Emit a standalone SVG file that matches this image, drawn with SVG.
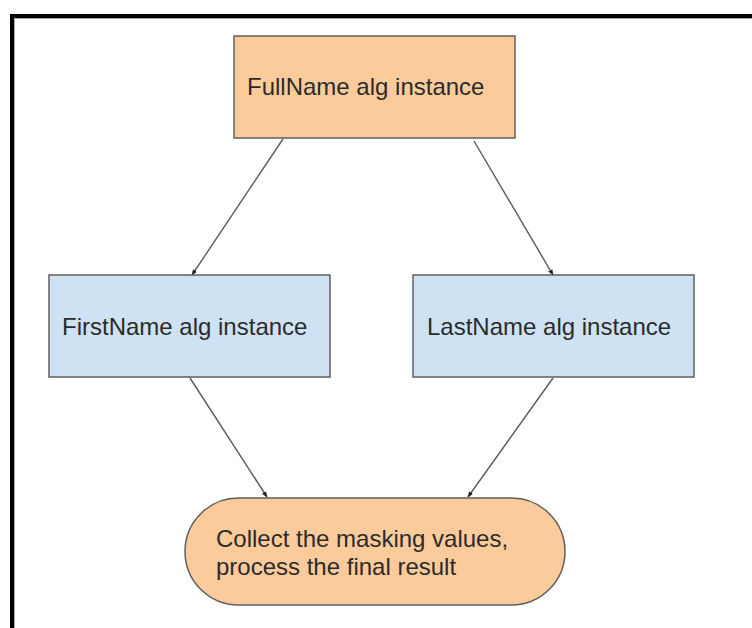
<svg xmlns="http://www.w3.org/2000/svg" width="752" height="628" viewBox="0 0 752 628">
<style>
.orange{fill:#fccb9b;stroke:#5f5f5f;stroke-width:1.5}
.blue{fill:#cfe2f3;stroke:#5f5f5f;stroke-width:1.5}
.lbl{font-family:"Liberation Sans",Arial,sans-serif;font-size:24px;fill:#2b2b2b}
.edge{stroke:#5a5a5a;stroke-width:1.4;fill:none;marker-end:url(#ah)}
</style>
<defs>
<marker id="ah" viewBox="0 0 10 10" refX="9" refY="5" markerWidth="6" markerHeight="6" markerUnits="userSpaceOnUse" orient="auto">
<path d="M0,1 L10,5 L0,9 Z" fill="#222"/>
</marker>
</defs>
<rect width="752" height="628" fill="#ffffff"/>
<g id="frame">
<path d="M12,628 V16 H752" fill="none" stroke="#000" stroke-width="4"/>
<path d="M14.5,628 V18.5 H752" fill="none" stroke="#a8a8a8" stroke-width="1"/>
</g>
<g id="connectors">
<line class="edge" x1="283" y1="139" x2="192" y2="275"/>
<line class="edge" x1="474" y1="141" x2="553" y2="275"/>
<line class="edge" x1="190" y1="378" x2="267" y2="497"/>
<line class="edge" x1="553" y1="378" x2="468" y2="497"/>
</g>
<g id="fullname">
<rect class="orange" x="234" y="36" width="281" height="102"/>
<text class="lbl" x="247" y="95">FullName alg instance</text>
</g>
<g id="firstname">
<rect class="blue" x="49" y="275" width="281" height="102"/>
<text class="lbl" x="62" y="335">FirstName alg instance</text>
</g>
<g id="lastname">
<rect class="blue" x="413" y="275" width="281" height="102"/>
<text class="lbl" x="427" y="335">LastName alg instance</text>
</g>
<g id="collect">
<rect class="orange" x="185" y="498" width="380" height="107" rx="53.5" ry="53.5"/>
<text class="lbl" x="216" y="547">Collect the masking values,</text>
<text class="lbl" x="216" y="575">process the final result</text>
</g>
</svg>
